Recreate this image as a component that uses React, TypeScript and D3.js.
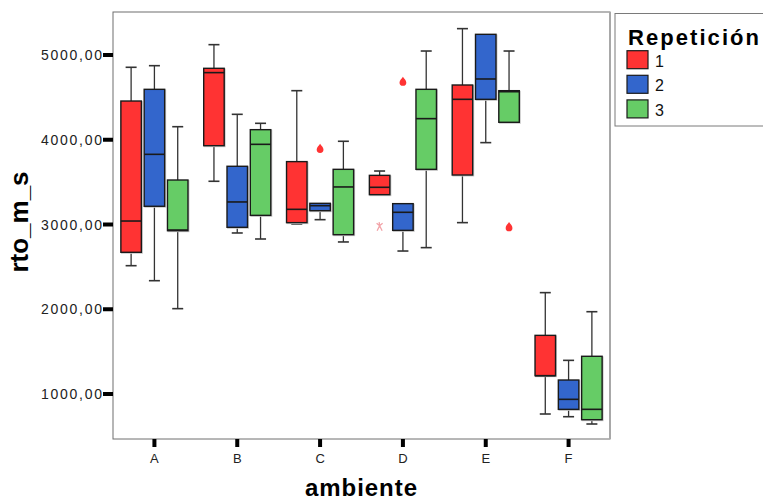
import React from "react";
import * as d3 from "d3";

const ambientes = ["A", "B", "C", "D", "E", "F"];
const repeticiones = ["1", "2", "3"];
const colores = ["#ff3333", "#3366cc", "#66cc66"];

// [min, q1, median, q3, max] per ambiente
const rep1 = [
  [2514, 2672, 3041, 4457, 4855],
  [3510, 3930, 4792, 4843, 5122],
  [3006, 3022, 3179, 3742, 4579],
  [3352, 3352, 3439, 3580, 3631],
  [3022, 3584, 4477, 4646, 5311],
  [764, 1216, 1216, 1692, 2196],
];
const rep2 = [
  [2337, 3215, 3828, 4595, 4874],
  [2900, 2967, 3266, 3687, 4300],
  [3057, 3163, 3222, 3250, 3250],
  [2687, 2931, 3144, 3246, 3246],
  [3966, 4477, 4717, 5244, 5244],
  [732, 819, 937, 1165, 1397],
];
const rep3 = [
  [2007, 2927, 2935, 3525, 4154],
  [2829, 3108, 3946, 4119, 4194],
  [2794, 2880, 3443, 3651, 3982],
  [2727, 3651, 4249, 4595, 5047],
  [4206, 4206, 4567, 4579, 5047],
  [646, 697, 819, 1445, 1971],
];
const series = [rep1, rep2, rep3];

// outliers: ambiente, position series, value, kind
const outAmb = ["C", "D", "D", "E"];
const outRep = ["2", "2", "1", "3"];
const outVal = [3899, 4690, 2974, 2974];
const outKind = ["circle", "circle", "star", "circle"];

const yTicks = [1000, 2000, 3000, 4000, 5000];

const W = 763;
const H = 503;
const L = 113, T = 12, R = 610, B = 439;
const FONT = "'Liberation Sans', Arial, sans-serif";

export default function App() {
  const x = d3.scaleBand<string>().domain(ambientes).range([L, R]);
  const xc = (a: string) => (x(a) as number) + x.bandwidth() / 2;
  const x1 = d3.scalePoint<string>().domain(repeticiones).range([-23.3, 23.3]);
  const y = d3.scaleLinear().domain([1000, 5000]).range([394, 55]);
  const bw = 20.5;
  const fmt = (v: number) => d3.format(".2f")(v).replace(".", ",");

  const drop = "M0,-4.6 C1.2,-2.6 3.4,-1.2 3.4,1.2 A3.4,3.4 0 1,1 -3.4,1.2 C-3.4,-1.2 -1.2,-2.6 0,-4.6Z";

  return (
    <svg width={W} height={H} style={{ position: "absolute", left: 0, top: 0, background: "#fff" }}>
      <rect x={0} y={0} width={W} height={H} fill="#fff" />
      {/* frame */}
      <rect x={L} y={T} width={R - L} height={B - T} fill="none" stroke="#6e6e6e" strokeWidth={1} />
      <line x1={R} x2={R} y1={T} y2={B} stroke="#a8a8a8" strokeWidth={2} />

      {/* y axis ticks */}
      {yTicks.map((t) => (
        <g key={t}>
          <line x1={103} x2={L} y1={y(t)} y2={y(t)} stroke="#000" strokeWidth={4} />
          <text x={102} y={y(t)} dy="0.36em" textAnchor="end" fontFamily={FONT} fontSize={14}
            fill="#222" textLength={61} lengthAdjust="spacing">{fmt(t)}</text>
        </g>
      ))}
      {/* x axis ticks */}
      {ambientes.map((a) => (
        <g key={a}>
          <line x1={xc(a)} x2={xc(a)} y1={B} y2={447} stroke="#000" strokeWidth={4} />
          <text x={xc(a)} y={463} textAnchor="middle" fontFamily={FONT} fontSize={13} fill="#222">{a}</text>
        </g>
      ))}

      {/* boxes */}
      {series.map((s, si) =>
        s.map((d, ai) => {
          const cx = xc(ambientes[ai]) + (x1(repeticiones[si]) as number);
          const [mn, q1, md, q3, mx] = d;
          const cap = 5.5;
          return (
            <g key={`${si}-${ai}`}>
              {mx > q3 && (
                <g stroke="#333" strokeWidth={1.3}>
                  <line x1={cx} x2={cx} y1={y(q3)} y2={y(mx)} />
                  <line x1={cx - cap} x2={cx + cap} y1={y(mx)} y2={y(mx)} strokeWidth={1.6} />
                </g>
              )}
              {mn < q1 && (
                <g stroke="#333" strokeWidth={1.3}>
                  <line x1={cx} x2={cx} y1={y(q1)} y2={y(mn)} />
                  <line x1={cx - cap} x2={cx + cap} y1={y(mn)} y2={y(mn)} strokeWidth={1.6} />
                </g>
              )}
              <rect x={cx - bw / 2 + 0.8} y={y(q3) + 0.8} width={bw} height={y(q1) - y(q3)}
                fill="none" stroke="#c8c8c8" strokeWidth={1.4} />
              <rect x={cx - bw / 2} y={y(q3)} width={bw} height={y(q1) - y(q3)}
                fill={colores[si]} stroke="#1a1a1a" strokeWidth={1.4} />
              <line x1={cx - bw / 2} x2={cx + bw / 2} y1={y(md)} y2={y(md)} stroke="#1a1a1a" strokeWidth={1.6} />
            </g>
          );
        })
      )}

      {/* outliers */}
      {outVal.map((v, i) => {
        const cx = xc(outAmb[i]) + (x1(outRep[i]) as number);
        const cy = y(v);
        if (outKind[i] === "star") {
          return (
            <g key={i} transform={`translate(${cx},${cy})`} stroke="#f2a3a8" strokeWidth={1.3} fill="none">
              <path d="M-2.5,4 L0,-1 L2.5,4 M-3,-3.5 L0,-1 L3,-3.5 M-0.5,-4.5 L0.5,1" />
            </g>
          );
        }
        return <path key={i} d={drop} transform={`translate(${cx},${cy})`} fill="#ff3333" />;
      })}

      {/* axis titles */}
      <text transform={`translate(28,222) rotate(-90)`} textAnchor="middle" fontFamily={FONT}
        fontWeight="bold" fontSize={26} fill="#000">rto_m_s</text>
      <text x={361} y={496} textAnchor="middle" fontFamily={FONT} fontWeight="bold" fontSize={24}
        fill="#000" textLength={112} lengthAdjust="spacing">ambiente</text>

      {/* legend */}
      <rect x={615} y={13.5} width={W} height={112.5} fill="#fff" stroke="#7a7a7a" strokeWidth={1} />
      <text x={628} y={45} fontFamily={FONT} fontWeight="bold" fontSize={22} fill="#000"
        textLength={131} lengthAdjust="spacing">Repetición</text>
      {repeticiones.map((r, i) => (
        <g key={r} transform={`translate(627,${50.7 + i * 24.6})`}>
          <rect x={0} y={0} width={21} height={18} fill={colores[i]} stroke="#1a1a1a" strokeWidth={1.2} />
          <text x={28} y={16} fontFamily={FONT} fontSize={16} fill="#111">{r}</text>
        </g>
      ))}
    </svg>
  );
}
